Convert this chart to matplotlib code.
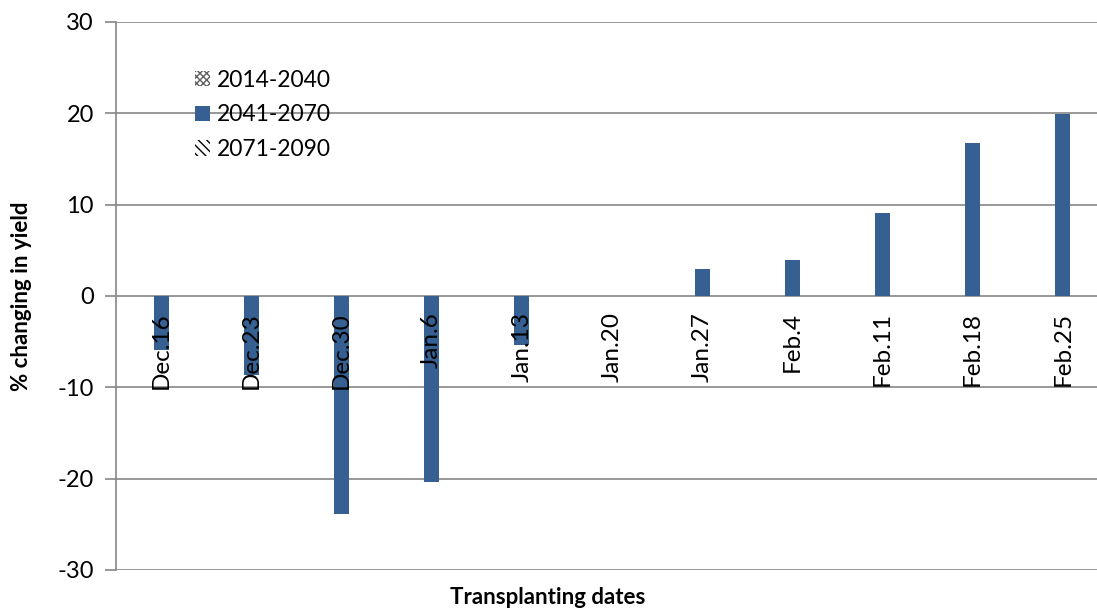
import numpy as np
import matplotlib.pyplot as plt

plt.rcParams['font.family'] = ['Lato', 'DejaVu Sans']
plt.rcParams['axes.unicode_minus'] = False

dates = ['Dec.16', 'Dec.23', 'Dec.30', 'Jan.6', 'Jan.13', 'Jan.20',
         'Jan.27', 'Feb.4', 'Feb.11', 'Feb.18', 'Feb.25']
p2014_2040 = [0, 0, 0, 0, 0, 0, 0, 0, 0, 0, 0]
p2041_2070 = [-5.9, -8.7, -23.9, -20.4, -5.4, 0, 3.0, 3.9, 9.1, 16.8, 19.9]
p2071_2090 = [0, 0, 0, 0, 0, 0, 0, 0, 0, 0, 0]

fig = plt.figure(figsize=(10.97, 6.12), dpi=100)
# plot area runs slightly past the right edge of the figure
ax = fig.add_axes([116 / 1097, 1 - 570 / 612, 992 / 1097, 548 / 612])

x = np.arange(len(dates))
w = 0.166
ax.bar(x - w, p2014_2040, w, facecolor='white', edgecolor='#606060',
       hatch='xxxxx', linewidth=0, label='2014-2040')
ax.bar(x, p2041_2070, w, color='#376092', label='2041-2070')
ax.bar(x + w, p2071_2090, w, facecolor='white', edgecolor='black',
       hatch='\\\\\\\\', linewidth=0, label='2071-2090')

ax.set_xlim(-0.5, len(dates) - 0.5)
ax.set_ylim(-30, 30)
ax.set_yticks(range(-30, 31, 10))
ax.yaxis.grid(True, color='#868686', linewidth=1.2)
ax.set_axisbelow(True)

for s in ['top', 'right', 'bottom']:
    ax.spines[s].set_visible(False)
ax.spines['left'].set_color('#868686')
ax.spines['left'].set_linewidth(1.2)
ax.tick_params(axis='y', direction='out', length=8, color='#868686',
               width=1.2, labelsize=17, pad=8)
ax.set_xticks([])

# category labels hang just below the zero line
for xi, lab in zip(x, dates):
    ax.annotate(lab, (xi, 0), xytext=(0, -16), textcoords='offset pixels',
                rotation=90, ha='center', va='top', fontsize=17.5)

ax.legend(loc='upper left', bbox_to_anchor=(0.07, 0.93), frameon=False,
          fontsize=16.5, handlelength=0.65, handleheight=0.65,
          handletextpad=0.3, labelspacing=0.6, borderaxespad=0)

fig.text(22 / 1097, 1 - 296 / 612, '% changing in yield', rotation=90,
         ha='center', va='center', fontsize=16, fontweight='bold')
fig.text(548 / 1097, 1 - 598 / 612, 'Transplanting dates',
         ha='center', va='center', fontsize=16, fontweight='bold')

fig.savefig('out.png', dpi=100)
